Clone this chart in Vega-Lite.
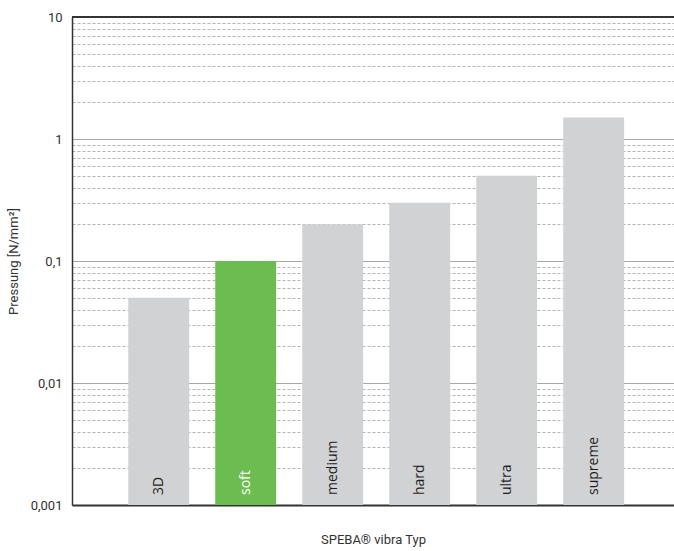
{
  "$schema": "https://vega.github.io/schema/vega-lite/v6.json",
  "autosize": "none",
  "width": 602,
  "height": 488,
  "padding": {"left": 72, "top": 17, "right": 0, "bottom": 46},
  "background": "white",
  "config": {
    "view": {"stroke": null},
    "font": "Roboto",
    "axis": {"labelFont": "Roboto", "titleFont": "Roboto"}
  },
  "data": {
    "values": [
      {"typ": "3D", "druck": 0.05, "gruppe": "andere"},
      {"typ": "soft", "druck": 0.1, "gruppe": "soft"},
      {"typ": "medium", "druck": 0.2, "gruppe": "andere"},
      {"typ": "hard", "druck": 0.3, "gruppe": "andere"},
      {"typ": "ultra", "druck": 0.5, "gruppe": "andere"},
      {"typ": "supreme", "druck": 1.5, "gruppe": "andere"}
    ]
  },
  "layer": [
    {
      "mark": {"type": "bar"},
      "encoding": {
        "x": {
          "field": "typ",
          "type": "nominal",
          "sort": null,
          "scale": {"paddingInner": 0.3, "paddingOuter": 0.61, "align": 0.53},
          "axis": {
            "title": "SPEBA® vibra Typ",
            "labels": false,
            "ticks": false,
            "domainColor": "#333333",
            "domainWidth": 2,
            "titleFontSize": 13,
            "titleFontWeight": "normal",
            "titleColor": "#333333",
            "titlePadding": 28
          }
        },
        "y": {
          "field": "druck",
          "type": "quantitative",
          "scale": {"type": "log", "domain": [0.001, 10], "nice": false},
          "axis": {
            "title": "Pressung [N/mm²]",
            "values": [0.001, 0.002, 0.003, 0.004, 0.005, 0.006, 0.007, 0.008, 0.009, 0.01, 0.02, 0.03, 0.04, 0.05, 0.06, 0.07, 0.08, 0.09, 0.1, 0.2, 0.3, 0.4, 0.5, 0.6, 0.7, 0.8, 0.9, 1, 2, 3, 4, 5, 6, 7, 8, 9, 10],
            "labelExpr": "indexof([0.001, 0.01, 0.1, 1, 10], datum.value) >= 0 ? replace(toString(datum.value), '.', ',') : ''",
            "ticks": false,
            "grid": true,
            "gridColor": {"condition": {"test": "indexof([0.001, 0.01, 0.1, 1, 10], datum.value) >= 0", "value": "#a8a8a8"}, "value": "#b4b4b4"},
            "gridDash": {"condition": {"test": "indexof([0.001, 0.01, 0.1, 1, 10], datum.value) >= 0", "value": []}, "value": [3, 2]},
            "gridWidth": 1,
            "domainColor": "#333333",
            "domainWidth": 1.5,
            "labelFontSize": 13,
            "labelColor": "#333333",
            "labelPadding": 10,
            "labelOverlap": false,
            "labelBound": false,
            "titleFontSize": 13,
            "titleFontWeight": "normal",
            "titleColor": "#333333",
            "titlePadding": 10
          }
        },
        "y2": {"datum": 0.001},
        "color": {
          "field": "gruppe",
          "type": "nominal",
          "scale": {"domain": ["andere", "soft"], "range": ["#d1d2d4", "#6cbd4f"]},
          "legend": null
        }
      }
    },
    {
      "mark": {"type": "text", "angle": 270, "align": "left", "baseline": "middle", "dx": 10, "fontSize": 14, "font": "Open Sans"},
      "encoding": {
        "x": {"field": "typ", "type": "nominal", "sort": null},
        "y": {"datum": 0.001, "type": "quantitative"},
        "text": {"field": "typ"},
        "color": {"condition": {"test": "datum.typ === 'soft'", "value": "white"}, "value": "#1e1e1e"}
      }
    },
    {
      "mark": {"type": "rule", "color": "#333333", "strokeWidth": 2},
      "encoding": {"y": {"datum": 10, "type": "quantitative"}}
    }
  ]
}
